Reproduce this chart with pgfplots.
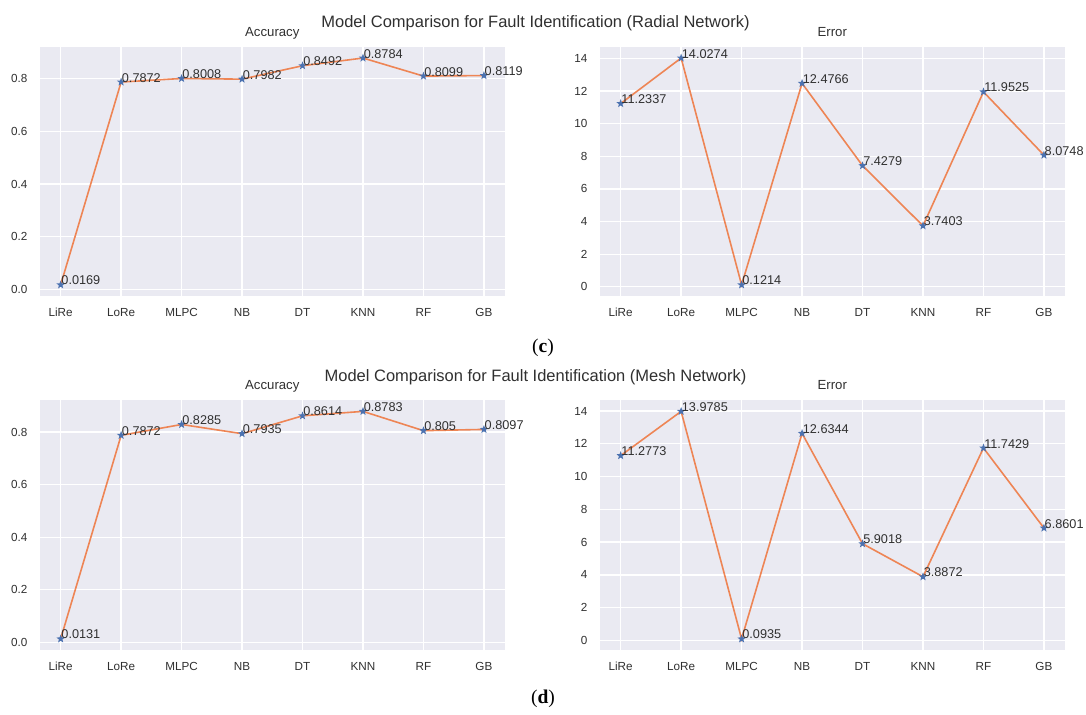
\documentclass[border=0pt]{standalone}
\usepackage{fontspec}
\setmainfont{Liberation Sans}
\newfontfamily\seriffont{Liberation Serif}
\usepackage{pgfplots}
\pgfplotsset{compat=1.18}
\definecolor{bg}{HTML}{EAEAF2}
\definecolor{lineor}{HTML}{EE8555}
\definecolor{mk}{HTML}{4C72B0}
\definecolor{txt}{HTML}{303030}
\pgfdeclareplotmark{fstar}{%
 \pgfpathmoveto{\pgfpointpolar{90}{\pgfplotmarksize}}%
 \pgfpathlineto{\pgfpointpolar{126}{0.42\pgfplotmarksize}}%
 \pgfpathlineto{\pgfpointpolar{162}{\pgfplotmarksize}}%
 \pgfpathlineto{\pgfpointpolar{198}{0.42\pgfplotmarksize}}%
 \pgfpathlineto{\pgfpointpolar{234}{\pgfplotmarksize}}%
 \pgfpathlineto{\pgfpointpolar{270}{0.42\pgfplotmarksize}}%
 \pgfpathlineto{\pgfpointpolar{306}{\pgfplotmarksize}}%
 \pgfpathlineto{\pgfpointpolar{342}{0.42\pgfplotmarksize}}%
 \pgfpathlineto{\pgfpointpolar{18}{\pgfplotmarksize}}%
 \pgfpathlineto{\pgfpointpolar{54}{0.42\pgfplotmarksize}}%
 \pgfpathclose
 \pgfusepathqfill}
\pgfplotsset{
 panel/.style={
  scale only axis, width=465.6bp,
  axis background/.style={fill=bg},
  axis line style={draw=none},
  major tick length=0pt,
  xmajorgrids, ymajorgrids,
  major grid style={white, line width=1.3bp},
  xmin=-0.35, xmax=7.35,
  xtick={0,...,7}, xticklabels={LiRe,LoRe,MLPC,NB,DT,KNN,RF,GB},
  tick label style={font=\fontsize{11.7bp}{13bp}\selectfont, text=txt},
  xticklabel style={anchor=base, yshift=-20bp},
  yticklabel style={anchor=east, xshift=-12bp, inner sep=0pt},
  title style={font=\fontsize{13.2bp}{15bp}\selectfont, text=txt, at={(0.5,1)}, anchor=base, yshift=4.5bp},
  clip=false,
 },
 ser/.style={color=lineor, line width=1.6bp, mark=fstar, mark size=4.4bp,
     mark options={fill=mk, draw=none},
     nodes near coords, point meta=explicit symbolic,
     nodes near coords style={anchor=base west, inner sep=0pt, text=txt,
        font=\fontsize{12.7bp}{14bp}\selectfont}},
 accp/.style={panel, title={Accuracy}, ytick={0,0.2,0.4,0.6,0.8}, yticklabels={0.0,0.2,0.4,0.6,0.8}},
 errp/.style={panel, title={Error}, ytick={0,2,...,14}, yticklabels={0,2,4,6,8,10,12,14}},
}
\begin{document}
\begin{tikzpicture}
\path[use as bounding box] (0,0) rectangle (1086bp,715bp);
\node[anchor=base, font=\fontsize{16.5bp}{19bp}\selectfont, text=txt] at (535.5bp,687bp) {Model Comparison for Fault Identification (Radial Network)};
\node[anchor=base, font=\fontsize{16.5bp}{19bp}\selectfont, text=txt] at (535.5bp,333.3bp) {Model Comparison for Fault Identification (Mesh Network)};
\node[font=\seriffont\fontsize{19.5bp}{22bp}\selectfont] at (543bp,367bp) {(\textbf{c})};
\node[font=\seriffont\fontsize{19.5bp}{22bp}\selectfont] at (543bp,16bp) {(\textbf{d})};

\begin{axis}[accp, at={(39.5bp,418.8bp)}, anchor=south west, height=249.5bp, ymin=-0.0262, ymax=0.9215]
\addplot[ser] coordinates {(0,0.0169) [0.0169] (1,0.7872) [0.7872] (2,0.8008) [0.8008] (3,0.7982) [0.7982]
 (4,0.8492) [0.8492] (5,0.8784) [0.8784] (6,0.8099) [0.8099] (7,0.8119) [0.8119]};
\end{axis}
\begin{axis}[errp, at={(599.5bp,418.8bp)}, anchor=south west, height=249.5bp, ymin=-0.5739, ymax=14.7227]
\addplot[ser] coordinates {(0,11.2337) [11.2337] (1,14.0274) [14.0274] (2,0.1214) [0.1214] (3,12.4766) [12.4766]
 (4,7.4279) [7.4279] (5,3.7403) [3.7403] (6,11.9525) [11.9525] (7,8.0748) [8.0748]};
\end{axis}
\begin{axis}[accp, at={(39.5bp,64.7bp)}, anchor=south west, height=250.3bp, ymin=-0.0302, ymax=0.9216]
\addplot[ser] coordinates {(0,0.0131) [0.0131] (1,0.7872) [0.7872] (2,0.8285) [0.8285] (3,0.7935) [0.7935]
 (4,0.8614) [0.8614] (5,0.8783) [0.8783] (6,0.805) [0.805] (7,0.8097) [0.8097]};
\end{axis}
\begin{axis}[errp, at={(599.5bp,64.7bp)}, anchor=south west, height=250.3bp, ymin=-0.6008, ymax=14.6728]
\addplot[ser] coordinates {(0,11.2773) [11.2773] (1,13.9785) [13.9785] (2,0.0935) [0.0935] (3,12.6344) [12.6344]
 (4,5.9018) [5.9018] (5,3.8872) [3.8872] (6,11.7429) [11.7429] (7,6.8601) [6.8601]};
\end{axis}
\end{tikzpicture}
\end{document}
